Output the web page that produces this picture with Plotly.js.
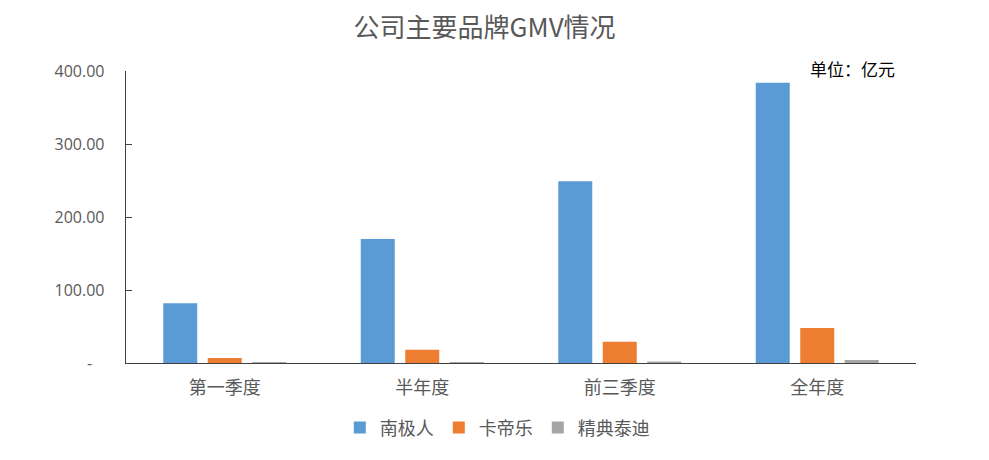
<!DOCTYPE html>
<html>
<head>
<meta charset="utf-8">
<script src="https://cdn.plot.ly/plotly-3.0.1.min.js"></script>
<style>html,body{margin:0;padding:0;background:#fff;}#chart{width:989px;height:460px;}</style>
</head>
<body>
<div id="chart"></div>
<script>
const categories = ['第一季度', '半年度', '前三季度', '全年度'];
const nanjiren = [82, 170, 249, 384];
const kadile = [7, 18, 29, 48];
const jingdian = [1.5, 1.5, 2, 4];
const yTickVals = [0, 100, 200, 300, 400];
const yTickText = ['-\u00a0\u00a0\u00a0', '100.00', '200.00', '300.00', '400.00'];

const cjk = '"Noto Sans CJK SC", "Noto Sans", sans-serif';
const data = [
  {type: 'bar', name: '南极人', x: categories, y: nanjiren, marker: {color: '#5B9BD5'}},
  {type: 'bar', name: '卡帝乐', x: categories, y: kadile, marker: {color: '#ED7D31'}},
  {type: 'bar', name: '精典泰迪', x: categories, y: jingdian, marker: {color: '#A5A5A5'}}
];
const layout = {
  width: 989, height: 460,
  paper_bgcolor: '#fff', plot_bgcolor: '#fff',
  margin: {l: 126, r: 73, t: 71, b: 97},
  title: {text: '公司主要品牌GMV情况', x: 0.49, xanchor: 'center', y: 0.94, yanchor: 'middle',
          font: {family: cjk, size: 26, color: '#595959'}},
  barmode: 'group', bargap: 0.324, bargroupgap: 0.236,
  showlegend: true,
  legend: {orientation: 'h', x: 0.47, xanchor: 'center', y: -0.222, yanchor: 'middle',
           font: {family: cjk, size: 18, color: '#595959'}, itemwidth: 30, traceorder: 'normal'},
  xaxis: {showline: true, linecolor: '#404040', linewidth: 1.3, ticks: '', showgrid: false,
          ticklabelstandoff: 8,
          tickfont: {family: cjk, size: 18, color: '#595959'}, zeroline: false},
  yaxis: {range: [0, 400], tickvals: yTickVals, ticktext: yTickText, showgrid: false, zeroline: false,
          showline: true, linecolor: '#404040', linewidth: 1.3, ticks: 'inside', ticklen: 6, tickcolor: '#404040',
          ticklabelstandoff: 17, tickfont: {family: '"Open Sans", "DejaVu Sans", sans-serif', size: 16, color: '#595959'}},
  annotations: [{text: '单位：亿元', xref: 'paper', yref: 'paper', x: 0.976, y: 1.01, xanchor: 'right', yanchor: 'middle',
                 showarrow: false, font: {family: cjk, size: 17, color: '#000'}}]
};
Plotly.newPlot('chart', data, layout, {displayModeBar: false, staticPlot: true});
</script>
</body>
</html>
